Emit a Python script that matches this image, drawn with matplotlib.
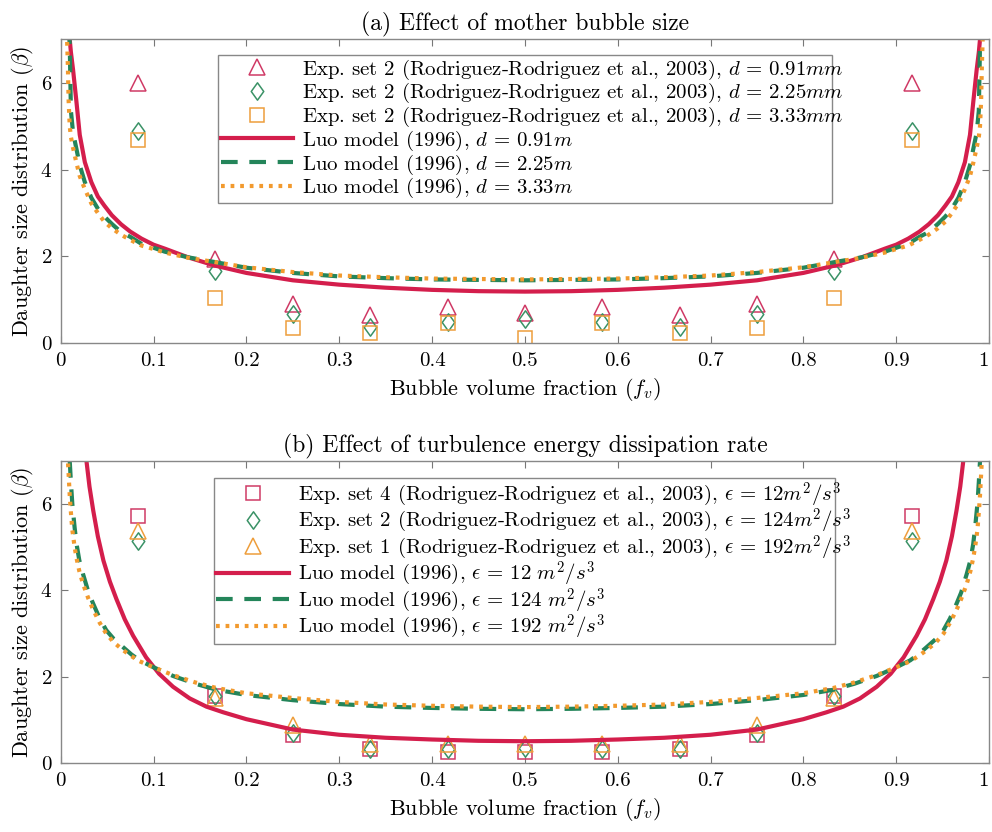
import matplotlib
matplotlib.use("Agg")
import matplotlib.pyplot as plt
from matplotlib.path import Path

plt.rcParams['font.family'] = ['cmr10', 'DejaVu Serif']
plt.rcParams['mathtext.fontset'] = 'cm'
plt.rcParams['axes.formatter.use_mathtext'] = True

# ---------------- data: panel (a) ----------------
fv_exp = [0.0833, 0.1667, 0.25, 0.3333, 0.4167, 0.5, 0.5833, 0.6667, 0.75, 0.8333, 0.9167]
exp_a_091 = [6.0, 1.94, 0.91, 0.64, 0.83, 0.70, 0.83, 0.64, 0.91, 1.94, 6.0]
exp_a_225 = [4.89, 1.67, 0.68, 0.37, 0.49, 0.55, 0.49, 0.37, 0.68, 1.67, 4.89]
exp_a_333 = [4.69, 1.05, 0.36, 0.24, 0.47, 0.12, 0.47, 0.24, 0.36, 1.05, 4.69]

fv_a = [0.006, 0.007, 0.0078, 0.0085, 0.0097, 0.011, 0.0133, 0.017, 0.0205, 0.026, 0.033,
        0.04, 0.047, 0.055, 0.065, 0.075, 0.087, 0.1, 0.112, 0.137, 0.166, 0.2, 0.25, 0.3,
        0.35, 0.4, 0.45, 0.5,
        0.55, 0.6, 0.65, 0.7, 0.75, 0.8, 0.834, 0.863, 0.888, 0.9, 0.913, 0.925, 0.935,
        0.945, 0.953, 0.96, 0.967, 0.974, 0.9795, 0.983, 0.9867, 0.989, 0.9903, 0.9915,
        0.9922, 0.993, 0.994]
luo_a_091 = [9.0, 8.6, 8.1, 7.6, 7.0, 6.7, 6.3, 5.55, 4.8, 4.17, 3.71, 3.38, 3.17, 2.95,
             2.74, 2.57, 2.41, 2.27, 2.18, 1.98, 1.79, 1.62, 1.45, 1.35, 1.28, 1.23, 1.20, 1.19,
             1.20, 1.23, 1.28, 1.35, 1.45, 1.62, 1.79, 1.98, 2.18, 2.27, 2.41, 2.57, 2.74,
             2.95, 3.17, 3.38, 3.71, 4.17, 4.8, 5.55, 6.3, 6.7, 7.0, 7.6, 8.1, 8.6, 9.0]
luo_a_225 = [8.8, 8.2, 7.8, 7.4, 6.9, 5.35, 4.85, 4.47, 4.1, 3.71, 3.35, 3.1, 2.92, 2.75,
             2.56, 2.45, 2.29, 2.2, 2.11, 1.98, 1.87, 1.74, 1.62, 1.54, 1.50, 1.47, 1.46, 1.45,
             1.46, 1.47, 1.50, 1.54, 1.62, 1.74, 1.87, 1.98, 2.11, 2.2, 2.29, 2.45, 2.56,
             2.75, 2.92, 3.1, 3.35, 3.71, 4.1, 4.47, 4.85, 5.35, 6.9, 7.4, 7.8, 8.2, 8.8]
luo_a_333 = [7.6, 6.9, 6.3, 5.6, 5.0, 4.75, 4.5, 4.15, 3.85, 3.55, 3.22, 3.0, 2.8, 2.65,
             2.5, 2.38, 2.25, 2.17, 2.09, 1.97, 1.87, 1.75, 1.64, 1.56, 1.52, 1.49, 1.48, 1.47,
             1.48, 1.49, 1.52, 1.56, 1.64, 1.75, 1.87, 1.97, 2.09, 2.17, 2.25, 2.38, 2.5,
             2.65, 2.8, 3.0, 3.22, 3.55, 3.85, 4.15, 4.5, 4.75, 5.0, 5.6, 6.3, 6.9, 7.6]

# ---------------- data: panel (b) ----------------
exp_b_12 = [5.73, 1.55, 0.65, 0.34, 0.26, 0.26, 0.26, 0.34, 0.65, 1.55, 5.73]
exp_b_124 = [5.15, 1.55, 0.70, 0.34, 0.34, 0.35, 0.34, 0.34, 0.70, 1.55, 5.15]
exp_b_192 = [5.38, 1.50, 0.88, 0.45, 0.45, 0.45, 0.45, 0.45, 0.88, 1.50, 5.38]

fv_b = [0.007, 0.008, 0.0097, 0.011, 0.0125, 0.015, 0.017, 0.02, 0.024, 0.03, 0.035, 0.042,
        0.049, 0.057, 0.067, 0.076, 0.085, 0.1, 0.121, 0.145, 0.168, 0.2, 0.25, 0.3, 0.35,
        0.4, 0.45, 0.5,
        0.55, 0.6, 0.65, 0.7, 0.75, 0.8, 0.832, 0.855, 0.879, 0.9, 0.915, 0.924, 0.933,
        0.943, 0.951, 0.958, 0.965, 0.97, 0.976, 0.98, 0.983, 0.985, 0.9875, 0.989, 0.9903,
        0.992, 0.993]
luo_b_124 = [8.3, 7.6, 7.0, 6.5, 6.0, 5.45, 5.08, 4.7, 4.38, 3.95, 3.69, 3.35, 3.08, 2.88,
             2.69, 2.52, 2.38, 2.22, 2.02, 1.84, 1.70, 1.58, 1.46, 1.37, 1.31, 1.28, 1.26, 1.25,
             1.26, 1.28, 1.31, 1.37, 1.46, 1.58, 1.70, 1.84, 2.02, 2.22, 2.38, 2.52, 2.69,
             2.88, 3.08, 3.35, 3.69, 3.95, 4.38, 4.7, 5.08, 5.45, 6.0, 6.5, 7.0, 7.6, 8.3]
luo_b_192 = [7.6, 6.9, 6.2, 5.8, 5.4, 5.0, 4.75, 4.45, 4.15, 3.8, 3.55, 3.25, 3.0, 2.8,
             2.62, 2.48, 2.36, 2.22, 2.04, 1.87, 1.74, 1.62, 1.51, 1.42, 1.36, 1.33, 1.31, 1.30,
             1.31, 1.33, 1.36, 1.42, 1.51, 1.62, 1.74, 1.87, 2.04, 2.22, 2.36, 2.48, 2.62,
             2.8, 3.0, 3.25, 3.55, 3.8, 4.15, 4.45, 4.75, 5.0, 5.4, 5.8, 6.2, 6.9, 7.6]
fv_b_red = [0.025, 0.0277, 0.031, 0.035, 0.04, 0.046, 0.053, 0.06, 0.069, 0.078, 0.092, 0.106,
            0.121, 0.139, 0.157, 0.175, 0.2, 0.225, 0.25, 0.3, 0.35, 0.4, 0.45, 0.5,
            0.55, 0.6, 0.65, 0.7, 0.75, 0.775, 0.8, 0.825, 0.843, 0.861, 0.879, 0.894, 0.908,
            0.922, 0.931, 0.94, 0.947, 0.954, 0.96, 0.965, 0.969, 0.9723, 0.975]
luo_b_12 = [7.8, 7.0, 6.4, 5.85, 5.25, 4.69, 4.2, 3.8, 3.33, 2.95, 2.45, 2.07, 1.77, 1.5,
            1.31, 1.18, 1.02, 0.9, 0.78, 0.66, 0.59, 0.55, 0.52, 0.51,
            0.52, 0.55, 0.59, 0.66, 0.78, 0.9, 1.02, 1.18, 1.31, 1.5, 1.77, 2.07, 2.45,
            2.95, 3.33, 3.8, 4.2, 4.69, 5.25, 5.85, 6.4, 7.0, 7.8]

xticks = [0, 0.1, 0.2, 0.3, 0.4, 0.5, 0.6, 0.7, 0.8, 0.9, 1]
xticklabels = ["0", "0.1", "0.2", "0.3", "0.4", "0.5", "0.6", "0.7", "0.8", "0.9", "1"]
yticks = [0, 2, 4, 6]

titles = ["(a) Effect of mother bubble size",
          "(b) Effect of turbulence energy dissipation rate"]
labels_a = [r"Exp. set 2 (Rodriguez-Rodriguez et al., 2003), $d\,=\,0.91mm$",
            r"Exp. set 2 (Rodriguez-Rodriguez et al., 2003), $d\,=\,2.25mm$",
            r"Exp. set 2 (Rodriguez-Rodriguez et al., 2003), $d\,=\,3.33mm$",
            r"Luo model (1996), $d\,=\,0.91m$",
            r"Luo model (1996), $d\,=\,2.25m$",
            r"Luo model (1996), $d\,=\,3.33m$"]
labels_b = [r"Exp. set 4 (Rodriguez-Rodriguez et al., 2003), $\epsilon\,=\,12m^2/s^3$",
            r"Exp. set 2 (Rodriguez-Rodriguez et al., 2003), $\epsilon\,=\,124m^2/s^3$",
            r"Exp. set 1 (Rodriguez-Rodriguez et al., 2003), $\epsilon\,=\,192m^2/s^3$",
            r"Luo model (1996), $\epsilon\,=\,12\ m^2/s^3$",
            r"Luo model (1996), $\epsilon\,=\,124\ m^2/s^3$",
            r"Luo model (1996), $\epsilon\,=\,192\ m^2/s^3$"]

RED = '#D41E4C'
GREEN = '#24855A'
ORANGE = '#F29A2E'
RED_M = '#D03A66'
GREEN_M = '#3A9266'
ORANGE_M = '#EE9E3C'

# MATLAB-like diamond (narrower than tall)
DIAMOND = Path([(0, 1), (0.72, 0), (0, -1), (-0.72, 0), (0, 1)],
               [Path.MOVETO, Path.LINETO, Path.LINETO, Path.LINETO, Path.CLOSEPOLY])

FS = 15.0
FL = 16
fig = plt.figure(figsize=(9.92, 8.32), dpi=100)
ax_a = fig.add_axes([0.0612, 0.5874, 0.9358, 0.3654])
ax_b = fig.add_axes([0.0612, 0.0826, 0.9358, 0.3637])

mk = dict(linestyle='none', mfc='none', mew=1.1)
# panel a
ax_a.plot(fv_exp, exp_a_091, marker='^', ms=12, mec=RED_M, label=labels_a[0], **mk)
ax_a.plot(fv_exp, exp_a_225, marker=DIAMOND, ms=12.5, mec=GREEN_M, label=labels_a[1], **mk)
ax_a.plot(fv_exp, exp_a_333, marker='s', ms=9.5, mec=ORANGE_M, label=labels_a[2], **mk)
ax_a.plot(fv_a, luo_a_091, color=RED, lw=3, label=labels_a[3])
ax_a.plot(fv_a, luo_a_225, color=GREEN, lw=3, linestyle=(0, (4, 2.8)), label=labels_a[4])
ax_a.plot(fv_a, luo_a_333, color=ORANGE, lw=3, linestyle=(0, (0.9, 1.4)), label=labels_a[5])

# panel b
ax_b.plot(fv_exp, exp_b_12, marker='s', ms=9.5, mec=RED_M, label=labels_b[0], **mk)
ax_b.plot(fv_exp, exp_b_124, marker=DIAMOND, ms=12.5, mec=GREEN_M, label=labels_b[1], **mk)
ax_b.plot(fv_exp, exp_b_192, marker='^', ms=12, mec=ORANGE_M, label=labels_b[2], **mk)
ax_b.plot(fv_b_red, luo_b_12, color=RED, lw=3, label=labels_b[3])
ax_b.plot(fv_b, luo_b_124, color=GREEN, lw=3, linestyle=(0, (4, 2.8)), label=labels_b[4])
ax_b.plot(fv_b, luo_b_192, color=ORANGE, lw=3, linestyle=(0, (0.9, 1.4)), label=labels_b[5])

for ax, title, anchor, lsp in [(ax_a, titles[0], (0.1695, 0.948, 0.6614, 0.0), -0.02),
                               (ax_b, titles[1], (0.165, 0.942, 0.669, 0.0), -0.09)]:
    ax.set_xlim(0, 1)
    ax.set_ylim(0, 7)
    ax.set_xticks(xticks)
    ax.set_xticklabels(xticklabels)
    ax.get_xticklabels()[-1].set_horizontalalignment('right')
    ax.set_yticks(yticks)
    ax.tick_params(direction='in', top=True, right=True, length=5, width=0.8,
                   color='#777777', labelsize=FS)
    ax.tick_params(axis='x', pad=6)
    ax.tick_params(axis='y', pad=6)
    for sp in ax.spines.values():
        sp.set_color('#888888')
        sp.set_linewidth(1.0)
    ax.set_title(title, fontsize=FL + 1, pad=6)
    ax.set_xlabel(r"Bubble volume fraction ($f_v$)", fontsize=FL, labelpad=5)
    ax.set_ylabel(r"Daughter size distribution ($\beta$)", fontsize=FL, labelpad=3)
    leg = ax.legend(loc='upper left', bbox_to_anchor=anchor, mode='expand', borderaxespad=0,
                    fontsize=FS, handlelength=3.5, handletextpad=0.4, labelspacing=lsp,
                    fancybox=False, framealpha=1, edgecolor='#888888', borderpad=0.12)
    leg.get_frame().set_linewidth(1.0)

fig.savefig("out.png", dpi=100)
